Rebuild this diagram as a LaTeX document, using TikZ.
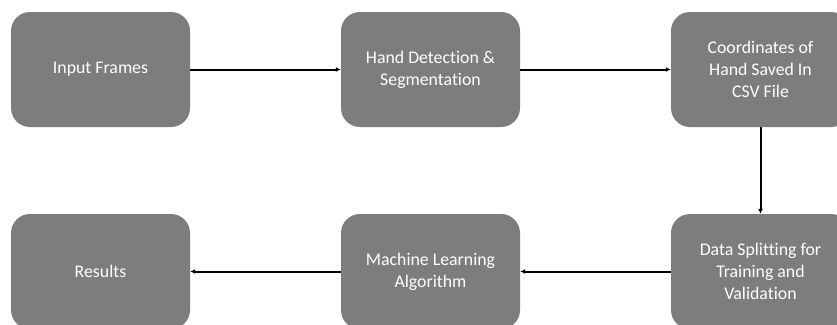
\documentclass[tikz,border=0pt]{standalone}
\usepackage{fontspec}
\setmainfont[Ligatures=NoCommon]{Carlito}
\usetikzlibrary{arrows.meta}

\tikzset{
	stage/.style={fill=gray!98!black, rounded corners=19pt, minimum width=179pt, minimum height=115pt,
		text=white, align=center, font=\fontsize{17.8}{22}\selectfont, inner sep=0pt},
	flow/.style={-{Latex[length=5pt,width=5pt]}, line width=2pt, black}
}

\begin{document}
\begin{tikzpicture}[x=1pt,y=-1pt]
		\clip (0,0) rectangle (837,324);
		\fill[white] (0,0) rectangle (837,324);
		\node[stage] (frames) at (100.5,69.5) {Input Frames};
		\node[stage] (detect) at (430.5,69.5) {Hand Detection \&\\Segmentation};
		\node[stage] (csv) at (760.5,69.5) {Coordinates of\\Hand Saved In\\CSV File};
		\node[stage] (split) at (760.5,271.5) {Data Splitting for\\Training and\\Validation};
		\node[stage] (ml) at (430.5,271.5) {Machine Learning\\Algorithm};
		\node[stage] (results) at (100.5,271.5) {Results};
		\draw[flow] (frames) -- (detect);
		\draw[flow] (detect) -- (csv);
		\draw[flow] (csv) -- (split);
		\draw[flow] (split) -- (ml);
		\draw[flow] (ml) -- (results);
	\end{tikzpicture}
\end{document}
